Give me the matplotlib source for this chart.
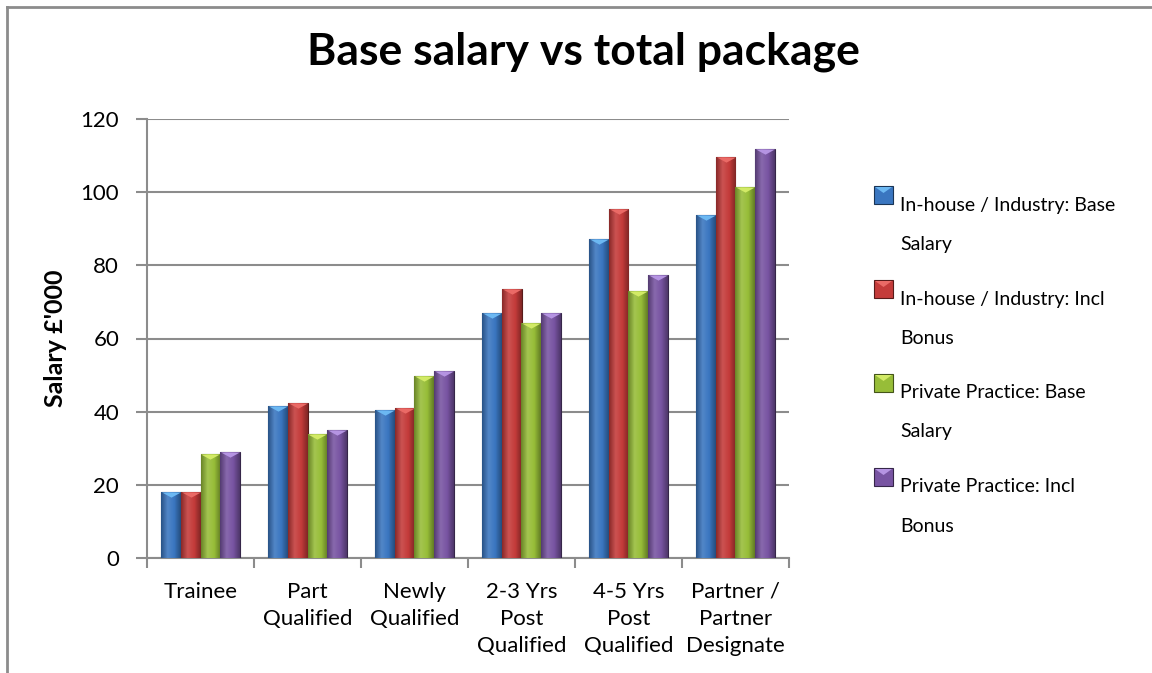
"""
Base salary vs total package - grouped bar chart.
"""
import matplotlib.pyplot as plt
import numpy as np
from matplotlib.colors import LinearSegmentedColormap, to_rgb
from matplotlib.lines import Line2D
from matplotlib.patches import Polygon, Rectangle

categories = [
    "Trainee",
    "Part\nQualified",
    "Newly\nQualified",
    "2-3 Yrs\nPost\nQualified",
    "4-5 Yrs\nPost\nQualified",
    "Partner /\nPartner\nDesignate",
]
series_names = [
    "In-house / Industry: Base\nSalary",
    "In-house / Industry: Incl\nBonus",
    "Private Practice: Base\nSalary",
    "Private Practice: Incl\nBonus",
]
inhouse_base = [18.0, 41.6, 40.5, 67.0, 87.2, 93.8]
inhouse_bonus = [18.0, 42.4, 41.0, 73.5, 95.4, 109.6]
private_base = [28.4, 33.9, 49.8, 64.2, 72.9, 101.4]
private_bonus = [29.0, 35.1, 51.2, 67.0, 77.4, 111.8]
y_ticks = [0, 20, 40, 60, 80, 100, 120]

series = [inhouse_base, inhouse_bonus, private_base, private_bonus]
colors = ["#3a76c0", "#c43b3a", "#97bd38", "#7854a2"]
tops = ["#6cb8f2", "#ea6a66", "#d2ea66", "#b594e2"]

plt.rcParams["font.family"] = ["Lato", "DejaVu Sans"]

W, H = 1152, 673
fig = plt.figure(figsize=(W / 100, H / 100), dpi=100)
ax = fig.add_axes([147 / W, 1 - 558 / H, 642 / W, 439 / H])


def shade(c, f):
    r = np.array(to_rgb(c))
    if f < 0:
        return tuple(r * (1 + f))
    return tuple(r + (1 - r) * f)


x = np.arange(len(categories))
width = 0.185
tri = [(-1, 0), (1, 0), (0, -0.55)]
for i, vals in enumerate(series):
    pos = x + (i - 1.5) * width
    bars = ax.bar(pos, vals, width, color=colors[i], edgecolor=shade(colors[i], -0.55),
                  linewidth=0.8, zorder=3)
    cmap = LinearSegmentedColormap.from_list(
        f"g{i}", [shade(colors[i], -0.3), shade(colors[i], 0.12), colors[i], shade(colors[i], -0.35)]
    )
    grad = np.linspace(0, 1, 64).reshape(1, -1)
    for b in bars:
        im = ax.imshow(grad, cmap=cmap, aspect="auto", zorder=3.5,
                       extent=[b.get_x(), b.get_x() + b.get_width(), 0, b.get_height()])
        im.set_clip_path(b)
    ax.plot(pos, vals, linestyle="none", marker=tri, markersize=13.5,
            color=tops[i], markeredgewidth=0, zorder=4)

ax.set_xlim(-0.5, len(categories) - 0.5)
ax.set_ylim(0, 120)
ax.set_yticks(y_ticks)
ax.set_xticks(x)
ax.set_xticklabels(categories, fontsize=16, linespacing=1.45)
ax.set_xticks(np.arange(len(categories) + 1) - 0.5, minor=True)
ax.tick_params(axis="x", which="major", length=0, pad=17)
ax.tick_params(axis="x", which="minor", length=7, width=1.5, color="#8c8c8c")
ax.tick_params(axis="y", length=8, width=1.5, color="#8c8c8c", pad=12, labelsize=16)
ax.grid(axis="y", color="#8c8c8c", linewidth=1.5, zorder=0)
ax.set_axisbelow(True)
for side in ["top", "right"]:
    ax.spines[side].set_visible(False)
for side in ["left", "bottom"]:
    ax.spines[side].set_color("#8c8c8c")
    ax.spines[side].set_linewidth(1.5)

ax.set_ylabel("Salary £'000", fontsize=18, fontweight="bold", labelpad=10)
fig.text(583 / W, 1 - 52 / H, "Base salary vs total package", fontsize=32,
         fontweight="bold", ha="center", va="center")

# legend drawn by hand to match the wrapped labels
for i, name in enumerate(series_names):
    ytop = 186 + 94 * i
    fig.patches.append(Rectangle((874 / W, 1 - (ytop + 18) / H), 19 / W, 18 / H,
                                 transform=fig.transFigure, facecolor=colors[i],
                                 edgecolor=shade(colors[i], -0.55), linewidth=0.8))
    fig.patches.append(Polygon([(875 / W, 1 - (ytop + 1) / H), (892 / W, 1 - (ytop + 1) / H),
                                (883.5 / W, 1 - (ytop + 7) / H)], closed=True,
                               transform=fig.transFigure, facecolor=tops[i], linewidth=0))
    for j, line in enumerate(name.split("\n")):
        fig.text(900 / W, 1 - (205 + 94 * i + 39 * j) / H, line, fontsize=14,
                 ha="left", va="center")

# outer chart border
fig.add_artist(Line2D([7 / W, 7 / W], [0, 1 - 7 / H], color="#8c8c8c", linewidth=2))
fig.add_artist(Line2D([7 / W, 1], [1 - 7 / H, 1 - 7 / H], color="#8c8c8c", linewidth=2))

fig.savefig("out.png", dpi=100)
